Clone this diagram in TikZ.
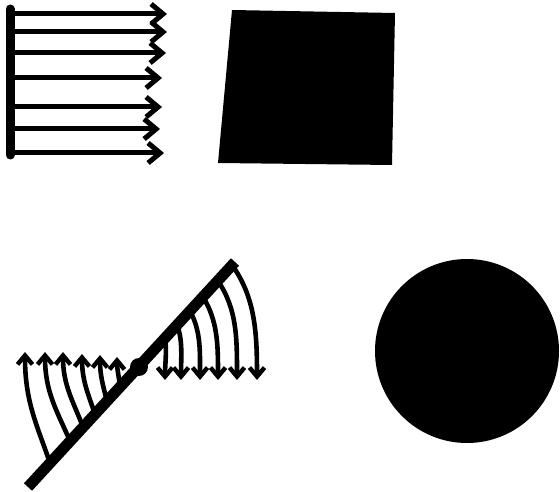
\documentclass[tikz,border=0pt]{standalone}
\usetikzlibrary{arrows.meta}
\begin{document}
\begin{tikzpicture}[x=1pt,y=-1pt,
  flow/.style={line width=5pt,-{Straight Barb[length=12pt,width=20pt,line width=5pt]}},
  swing/.style={line width=4.6pt,-{Straight Barb[length=9pt,width=15pt,line width=4.4pt]}},
  blob/.style={fill=black,draw=none}]
\useasboundingbox (0,0) rectangle (560,492);
% top-left: uniform flow
\coordinate (bt) at (10,9);
\coordinate (bb) at (10,155);
\draw[line width=9pt,line cap=round] (bt) -- (bb);
\foreach \y/\x [count=\i] in {14/167,32/167,53/166,78/162,107/162,129/160,153/164}{
  \coordinate (s\i) at (10,\y);
  \coordinate (e\i) at (\x,\y);
  \draw[flow] (s\i) -- (e\i);
}
% top-right: square
\fill[blob] (232,10) coordinate (q1) -- (395,13) coordinate (q2) -- (392,165) coordinate (q3) -- (218,163) coordinate (q4) -- cycle;
% bottom-right: disc
\coordinate (cc) at (467,351);
\fill[blob] (cc) circle[radius=92];
% bottom-left: rotating rod
\coordinate (L1) at (28,487);
\coordinate (L2) at (235,262);
\coordinate (P) at (139,367);
% upward arrows
\coordinate (a1) at (50,463); \coordinate (t1) at (25,352);
\coordinate (a2) at (70,441); \coordinate (t2) at (45,352);
\coordinate (a3) at (83,427); \coordinate (t3) at (63,352);
\coordinate (a4) at (95,414); \coordinate (t4) at (82,354);
\coordinate (a5) at (107,401); \coordinate (t5) at (100,355);
\coordinate (a6) at (120,387); \coordinate (t6) at (117,357);
\draw[swing] (a1) .. controls +(-13,-38) and +(0,50) .. (t1);
\draw[swing] (a2) .. controls +(-13,-30) and +(0,40) .. (t2);
\draw[swing] (a3) .. controls +(-10,-26) and +(0,33) .. (t3);
\draw[swing] (a4) .. controls +(-7,-20) and +(0,26) .. (t4);
\draw[swing] (a5) .. controls +(-4,-15) and +(0,20) .. (t5);
\draw[swing] (a6) .. controls +(-1,-10) and +(0,12) .. (t6);
% downward arrows
\coordinate (r1) at (165,338); \coordinate (u1) at (165,380);
\coordinate (r2) at (177,325); \coordinate (u2) at (181,380);
\coordinate (r3) at (190,311); \coordinate (u3) at (200,380);
\coordinate (r4) at (203,297); \coordinate (u4) at (218,380);
\coordinate (r5) at (218,281); \coordinate (u5) at (237,380);
\coordinate (r6) at (232,265); \coordinate (u6) at (257,380);
\draw[swing] (r1) .. controls +(2,12) and +(0,-15) .. (u1);
\draw[swing] (r2) .. controls +(6,15) and +(0,-22) .. (u2);
\draw[swing] (r3) .. controls +(11,20) and +(0,-28) .. (u3);
\draw[swing] (r4) .. controls +(15,24) and +(0,-34) .. (u4);
\draw[swing] (r5) .. controls +(19,28) and +(0,-42) .. (u5);
\draw[swing] (r6) .. controls +(23,32) and +(0,-48) .. (u6);
\draw[line width=11pt] (L1) -- (L2);
\fill[blob] (P) circle[radius=9];
\end{tikzpicture}
\end{document}
